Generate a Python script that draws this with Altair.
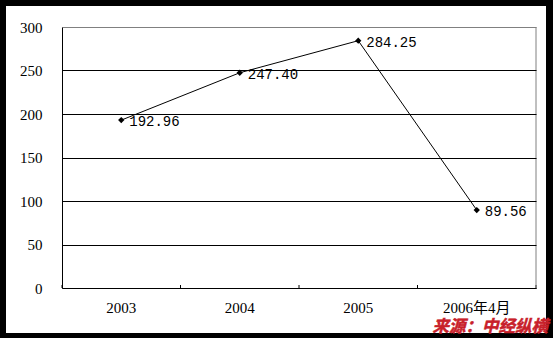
import altair as alt
import pandas as pd

categories = ["2003", "2004", "2005", "2006年4月"]
values = [192.96, 247.40, 284.25, 89.56]
labels = ["192.96", "247.40", "284.25", "89.56"]
y_ticks = [0, 50, 100, 150, 200, 250, 300]
source_text = "来源：中经纵横"

df = pd.DataFrame({"cat": categories, "val": values, "lab": labels})
tick_df = pd.DataFrame({"cat": categories})

W, H = 474, 261

x_enc = alt.X("cat:N", sort=categories, title=None,
              scale=alt.Scale(paddingInner=0, paddingOuter=0),
              axis=alt.Axis(labelAngle=0, ticks=False, domainColor="black",
                            labelFont="Liberation Serif, Noto Sans CJK SC",
                            labelFontSize=15, labelColor="black",
                            labelPadding=12, grid=False, zindex=1))
y_enc = alt.Y("val:Q", title=None,
              scale=alt.Scale(domain=[0, 300], nice=False, zero=True),
              axis=alt.Axis(values=y_ticks, ticks=False, domainColor="black",
                            labelFont="Liberation Serif", labelFontSize=15,
                            labelColor="black", labelPadding=20,
                            grid=True, zindex=1,
                            gridColor={"condition": {"test": "datum.value === 300", "value": "#808080"}, "value": "#000000"}))

bg = alt.Chart(pd.DataFrame({"a": [0]})).mark_rect(color="white").encode(
    x=alt.value(-56), x2=alt.value(484), y=alt.value(-21), y2=alt.value(306)
)
right_border = alt.Chart(pd.DataFrame({"a": [0]})).mark_rule(color="#808080", strokeWidth=1).encode(
    x=alt.value(W), y=alt.value(0), y2=alt.value(H - 3))

line = alt.Chart(df).mark_line(color="black", strokeWidth=1).encode(x=x_enc, y=y_enc)
pts = alt.Chart(df).mark_point(shape="diamond", filled=True, color="black", size=40, opacity=1).encode(
    x=alt.X("cat:N", sort=categories), y="val:Q")
txt = alt.Chart(df).mark_text(align="left", baseline="middle", dx=8, dy=2,
                              font="Liberation Mono", fontSize=14, color="black").encode(
    x=alt.X("cat:N", sort=categories), y="val:Q", text="lab:N")

ticks = alt.Chart(tick_df).mark_rule(color="black", strokeWidth=1).encode(
    x=alt.X("cat:N", sort=categories, bandPosition=0),
    y=alt.value(H - 3), y2=alt.value(H))
tick_end = alt.Chart(pd.DataFrame({"a": [0]})).mark_rule(color="black").encode(
    x=alt.value(W), y=alt.value(H - 3), y2=alt.value(H))

src = alt.Chart(pd.DataFrame({"t": [source_text]})).mark_text(
    align="right", baseline="alphabetic", font="Noto Sans CJK SC", fontSize=16.5,
    fontWeight="bold", fontStyle="italic", color="#c8202a",
    stroke="#c8202a", strokeWidth=0.5
).encode(x=alt.value(486), y=alt.value(305), text="t:N")

chart = alt.layer(bg, right_border, line, pts, txt, ticks, tick_end, src).properties(
    width=W, height=H,
    background="black",
    padding={"left": 62, "top": 27, "right": 17, "bottom": 50},
    autosize=alt.AutoSizeParams(type="none"),
).configure_view(stroke=None, fill=None).configure_axis(
    domainWidth=1, gridWidth=1
)

chart.save("out.html", embed_options={"renderer": "svg", "actions": False})
